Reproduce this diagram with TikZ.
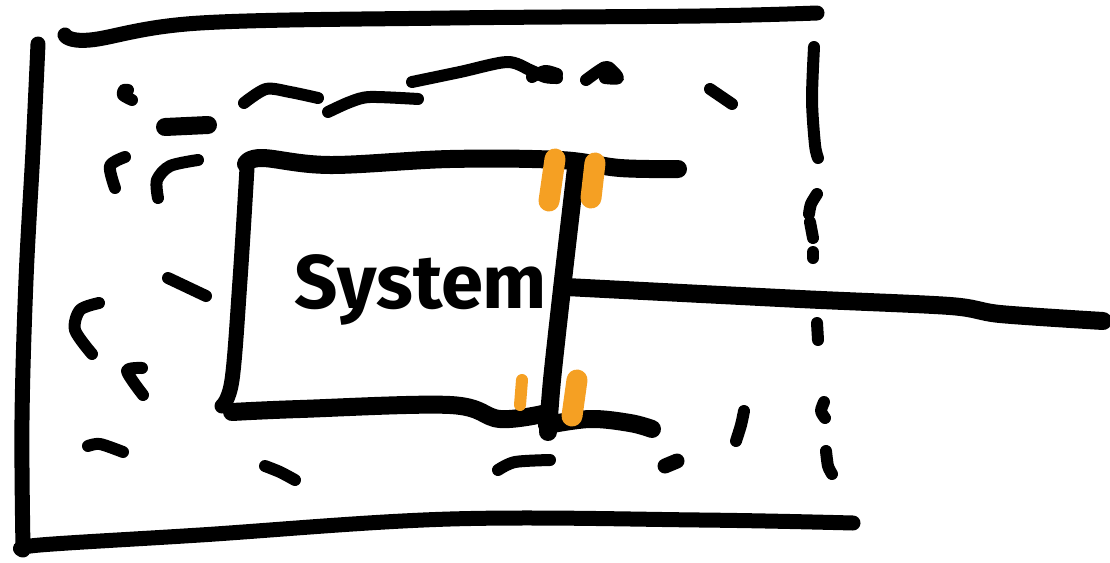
\documentclass[tikz,border=0pt]{standalone}
\usepackage{fontspec}
\setmainfont{Fira Sans}
\definecolor{markorange}{HTML}{F5A023}
\begin{document}
\begin{tikzpicture}[x=1pt,y=-1pt,
  ink/.style={line width=15pt,line cap=round,line join=round},
  boxink/.style={line width=18pt,line cap=round,line join=round},
  sketchdash/.style={line width=12pt,line cap=round,line join=round},
  orangetick/.style={line width=21pt,line cap=round,color=markorange}]
\useasboundingbox (0,0) rectangle (1110,562);
% outer frame
\draw[ink] plot[smooth,tension=0.6] coordinates {(65,35) (90,40) (200,23) (450,18) (700,16) (817,13)};
\draw[ink] plot[smooth,tension=0.6] coordinates {(38,44) (33,150) (26,280) (22,420) (23,548)};
\draw[ink] plot[smooth,tension=0.6] coordinates {(23,550) (40,545) (200,535) (450,519) (700,520) (853,523)};
% right dashed side
\draw[sketchdash] plot[smooth] coordinates {(814,47) (812,100) (815,145) (818,158)};
\draw[sketchdash] plot[smooth] coordinates {(817,194) (811,204) (809,214)};
\draw[sketchdash] (810,222) -- (813,238);
\draw[sketchdash] (813,252) -- (813,258);
\draw[sketchdash] (817,323) -- (818,340);
\draw[sketchdash] plot[smooth] coordinates {(824,402) (821,411) (825,418)};
\draw[sketchdash] plot[smooth] coordinates {(826,451) (828,466) (832,474)};
% dashed middle frame
\draw[sketchdash] plot[smooth] coordinates {(132,100) (123,95) (124,90) (128,90)};
\draw[line width=18pt,line cap=round] (165,127) -- (208,125);
\draw[sketchdash] plot[smooth] coordinates {(244,103) (266,89) (290,92) (318,98)};
\draw[sketchdash] plot[smooth] coordinates {(328,112) (350,102) (370,97) (418,99)};
\draw[sketchdash] plot[smooth] coordinates {(412,82) (460,72) (507,62) (530,70) (545,77) (557,78)};
\draw[sketchdash] plot[smooth] coordinates {(532,77) (545,71) (557,74)};
\draw[sketchdash] plot[smooth] coordinates {(586,80) (600,70) (608,67) (618,78) (605,78)};
\draw[sketchdash] (710,89) -- (732,104);
\draw[sketchdash] plot[smooth] coordinates {(125,157) (110,166) (115,188)};
\draw[sketchdash] plot[smooth] coordinates {(198,160) (170,166) (157,180) (158,198)};
\draw[sketchdash] (168,278) -- (206,296);
\draw[sketchdash] plot[smooth] coordinates {(99,303) (80,310) (75,330) (92,354)};
\draw[sketchdash] plot[smooth] coordinates {(142,368) (127,371) (143,395)};
\draw[sketchdash] plot[smooth] coordinates {(88,446) (100,444) (123,452)};
\draw[sketchdash] plot[smooth] coordinates {(265,466) (280,472) (295,480)};
\draw[sketchdash] plot[smooth] coordinates {(498,470) (515,462) (550,460)};
\draw[line width=15pt,line cap=round] (665,466) -- (677,461);
\draw[sketchdash] plot[smooth] coordinates {(744,411) (741,425) (736,441)};
% system box
\draw[boxink] plot[smooth,tension=0.6] coordinates {(246,164) (262,158) (330,165) (450,159) (560,160) (620,168) (678,169)};
\draw[ink] plot[smooth,tension=0.6] coordinates {(247,168) (240,280) (232,380) (222,406)};
\draw[boxink] plot[smooth,tension=0.6] coordinates {(232,412) (300,409) (450,405) (500,419) (547,413)};
\draw[boxink] plot[smooth,tension=0.6] coordinates {(547,425) (590,419) (630,423) (652,429)};
\draw[boxink] plot[smooth,tension=0.5] coordinates {(576,168) (563,280) (552,380) (548,432)};
\node[font=\fontsize{76}{76}\selectfont\bfseries] (sys) at (421,290) {System};
% output line
\draw[boxink] plot[smooth,tension=0.5] coordinates {(566,287) (800,299) (950,306) (1000,314) (1103,321)};
% orange ticks
\draw[orangetick] (555,159) -- (549,201);
\draw[orangetick] (595,163) -- (591,198);
\draw[orangetick,line width=12pt] (522,380) -- (520,405);
\draw[orangetick] (577,380) -- (572,416);
\end{tikzpicture}
\end{document}
